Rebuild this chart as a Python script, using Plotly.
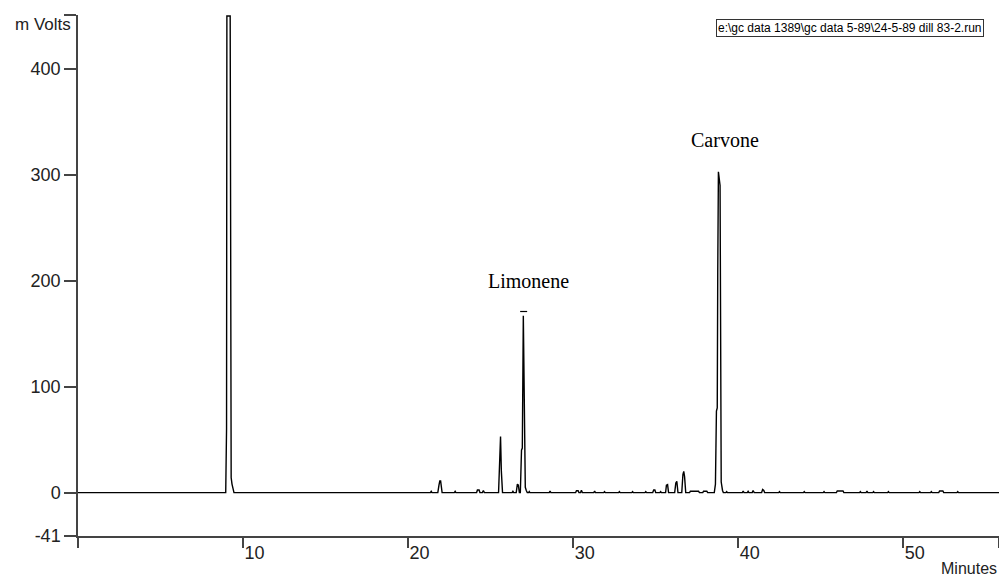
import plotly.graph_objects as go

# Chromatogram trace (retention time in minutes, detector signal in mV)
time_min = [
    0.0, 8.95, 9.0, 9.02, 9.22, 9.25, 9.28, 9.33, 9.41, 9.45,
    21.35, 21.4, 21.45,
    21.8, 21.87, 21.92, 21.97, 22.0, 22.06,
    22.8, 22.85, 22.9,
    24.15, 24.2, 24.3, 24.35, 24.5, 24.56, 24.62,
    25.48, 25.55, 25.6, 25.65, 25.72,
    26.3, 26.35, 26.4,
    26.55, 26.62, 26.68, 26.74,
    26.8, 26.87, 26.92, 26.98, 27.04, 27.1, 27.16, 27.22,
    27.3, 27.34, 27.38,
    28.55, 28.6, 28.65,
    30.15, 30.2, 30.3, 30.35, 30.45, 30.5, 30.56,
    31.25, 31.3, 31.35,
    31.85, 31.9, 31.95,
    32.75, 32.8, 32.85,
    33.55, 33.6, 33.65,
    34.35, 34.4, 34.45,
    34.82, 34.88, 34.95, 35.0,
    35.25, 35.3, 35.35,
    35.6, 35.65, 35.72, 35.78,
    36.15, 36.22, 36.28, 36.35,
    36.58, 36.65, 36.7, 36.75, 36.82,
    37.05, 37.1, 37.6, 37.65,
    37.85, 37.9, 38.1, 38.15,
    38.55, 38.62, 38.68, 38.73, 38.76, 38.8, 38.9, 38.97, 39.05, 39.1,
    39.25, 39.3, 39.35,
    40.25, 40.3, 40.35, 40.55, 40.6, 40.65, 40.85, 40.9, 40.97,
    41.42, 41.48, 41.55, 41.6,
    42.45, 42.5, 42.55,
    43.95, 44.0, 44.05,
    45.15, 45.2, 45.25,
    45.95, 46.0, 46.35, 46.4,
    47.35, 47.4, 47.45, 47.75, 47.8, 47.85, 48.15, 48.2, 48.25,
    49.05, 49.1, 49.15,
    50.95, 51.0, 51.05,
    51.65, 51.7, 51.75,
    52.15, 52.2, 52.4, 52.45,
    53.25, 53.3, 53.35,
    55.8,
]
signal_mv = [
    0, 0, 60, 450, 450, 18, 14, 8, 1, 0,
    0, 1.2, 0,
    0, 7, 11, 11, 6, 0,
    0, 1.2, 0,
    0, 2.5, 2.5, 0, 0, 2, 0,
    0, 40, 53, 20, 0,
    0, 1.2, 0,
    0, 8, 7, 0,
    0, 40, 42, 167, 100, 5, 2, 0,
    0, 1, 0,
    0, 1.5, 0,
    0, 1.8, 1.8, 0, 0, 2.2, 0,
    0, 1.5, 0,
    0, 1, 0,
    0, 1, 0,
    0, 1, 0,
    0, 1, 0,
    0, 2.5, 2.5, 0,
    0, 1, 0,
    0, 7, 7.5, 0,
    0, 9, 10.7, 0,
    0, 17, 20, 15, 0,
    0, 1.2, 1.2, 0,
    0, 1.2, 1.2, 0,
    0, 8, 77, 80, 208, 303, 290, 10, 2, 0,
    0, 1, 0,
    0, 1.5, 0, 0, 1.2, 0, 0, 2, 0,
    0, 3, 2, 0,
    0, 1, 0,
    0, 1, 0,
    0, 1, 0,
    0, 1.5, 1.5, 0,
    0, 1, 0, 0, 1.5, 0, 0, 1, 0,
    0, 1, 0,
    0, 1, 0,
    0, 1, 0,
    0, 1.5, 1.5, 0,
    0, 1, 0,
    0,
]

# Peak labels
peak_names = ["Limonene", "Carvone"]
peak_label_time = [27.3, 39.2]
peak_label_mv = [200, 333]

# Peak-top marker for limonene
marker_time = [27.0]
marker_mv = [171]

x_ticks = [0, 10, 20, 30, 40, 50, 55.8]
x_tick_text = ["", "10", "20", "30", "40", "50", ""]
y_ticks = [-41, 0, 100, 200, 300, 400, 451]
y_tick_text = ["-41", "0", "100", "200", "300", "400", ""]

run_file = "e:\\gc data 1389\\gc data 5-89\\24-5-89 dill 83-2.run"

fig = go.Figure()
fig.add_trace(go.Scatter(
    x=time_min, y=signal_mv, mode="lines",
    line=dict(color="black", width=1.4),
    hoverinfo="x+y", showlegend=False,
))
fig.add_trace(go.Scatter(
    x=marker_time, y=marker_mv, mode="markers",
    marker=dict(symbol="line-ew", size=5, line=dict(color="black", width=1.2)),
    showlegend=False, hoverinfo="skip",
))

for name, t, v in zip(peak_names, peak_label_time, peak_label_mv):
    fig.add_annotation(
        x=t, y=v, text=name, showarrow=False, xref="x", yref="y",
        font=dict(family="Liberation Serif, Times New Roman, serif", size=20, color="black"),
    )

fig.add_annotation(
    x=0, y=451, xref="x", yref="y", text="m Volts", showarrow=False,
    xanchor="right", yanchor="top", xshift=-5, yshift=2,
    font=dict(family="Liberation Sans, Arial, sans-serif", size=17, color="#222"),
)
fig.add_annotation(
    x=1, y=0, xref="paper", yref="paper", text="Minutes", showarrow=False,
    xanchor="right", yanchor="middle", yshift=-32,
    font=dict(family="Liberation Sans, Arial, sans-serif", size=16, color="#222"),
)
fig.add_annotation(
    x=0.9835, y=0.992, xref="paper", yref="paper", text=run_file, showarrow=False,
    xanchor="right", yanchor="top",
    font=dict(family="Liberation Sans, Arial, sans-serif", size=12, color="black"),
    bordercolor="#333", borderwidth=1, borderpad=1, bgcolor="white",
)

axis_font = dict(family="Liberation Sans, Arial, sans-serif", size=18, color="#222")
fig.update_layout(
    width=999, height=569,
    margin=dict(l=70, r=8, t=7, b=41, autoexpand=False),
    paper_bgcolor="white", plot_bgcolor="white",
    xaxis=dict(
        range=[0, 55.8], tickmode="array", tickvals=x_ticks, ticktext=x_tick_text,
        ticks="outside", ticklen=10, tickwidth=1.5, tickcolor="#444",
        ticklabelposition="outside right",
        showline=True, linecolor="#444", linewidth=1.5,
        showgrid=False, zeroline=False, tickfont=axis_font,
    ),
    yaxis=dict(
        range=[-41, 451], tickmode="array", tickvals=y_ticks, ticktext=y_tick_text,
        ticks="outside", ticklen=12, tickwidth=1.5, tickcolor="#444",
        showline=True, linecolor="#444", linewidth=1.5,
        showgrid=False, zeroline=False, tickfont=axis_font,
    ),
)

fig.write_html("out.html")
